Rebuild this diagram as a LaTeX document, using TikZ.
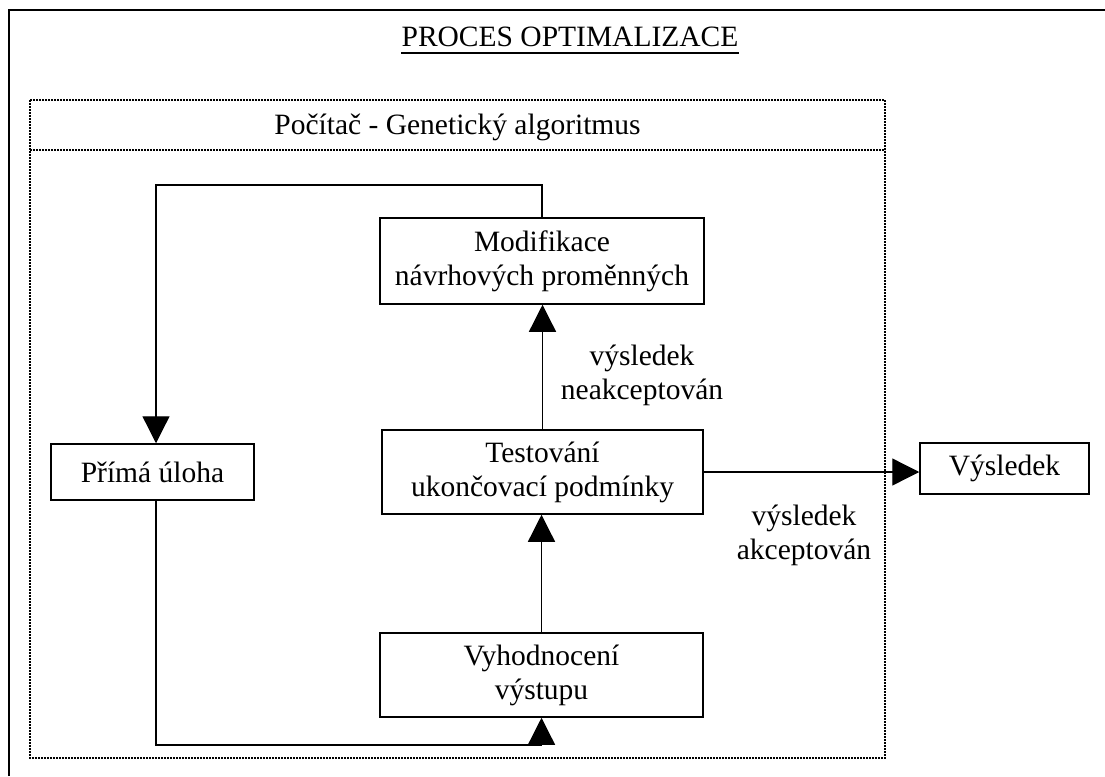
\documentclass[tikz,border=0pt]{standalone}
\usepackage{fontspec}
\setmainfont{Liberation Serif}
\usetikzlibrary{arrows.meta}
\begin{document}
\begin{tikzpicture}[x=1pt,y=-1pt,
  font=\fontsize{29.5}{34}\selectfont,
  box/.style={draw, line width=1.5pt, align=center, inner sep=0pt},
  conn/.style={line width=1.3pt},
  arr/.style={conn, -{Triangle[length=27pt,width=27pt]}},
  lbl/.style={align=center, inner sep=0pt},
  dotline/.style={line width=1.6pt, dash pattern=on 1.6pt off 1.4pt}
]
\useasboundingbox (0,0) rectangle (1105,776);
% outer frame
\draw[line width=2.2pt] (9,776) -- (9,10) -- (1105,10);
% title
\node[anchor=base, inner sep=0pt] (title) at (570,47) {PROCES OPTIMALIZACE};
\draw[line width=1.6pt] ([yshift=-6pt]title.base west) -- ([yshift=-6pt]title.base east);
% dotted computer box
\draw[dotline] (30,100) rectangle (885,758);
\draw[dotline] (30,150) -- (885,150);
\node[anchor=base, inner sep=0pt] (ga) at (457.5,134) {Počítač - Genetický algoritmus};
% boxes
\node[box, minimum width=324pt, minimum height=86pt] (mod) at (542,261) {Modifikace\\návrhových proměnných};
\node[box, minimum width=321pt, minimum height=84pt] (test) at (542.5,472) {Testování\\ukončovací podmínky};
\node[box, minimum width=323pt, minimum height=84pt] (vyh) at (541.5,675) {Vyhodnocení\\výstupu};
\node[box, minimum width=203pt, minimum height=56pt] (prima) at (152.5,472) {Přímá úloha};
\node[box, minimum width=169pt, minimum height=51pt] (vys) at (1004.5,468.5) {Výsledek};
% labels
\node[lbl] (lneg) at (642,375) {výsledek\\neakceptován};
\node[lbl] (lacc) at (804,535) {výsledek\\akceptován};
% connectors
\coordinate (tl) at (156,185);
\coordinate (bl) at (156,745);
\draw[arr] (test.north) -- (test.north |- mod.south);
\draw[arr] (vyh.north) -- (vyh.north |- test.south);
\draw[arr] (test.east) -- (test.east -| vys.west);
\draw[arr] (mod.north) |- (tl) -- (tl |- prima.north);
\draw[arr] (bl |- prima.south) -- (bl) -| (vyh.south);
\end{tikzpicture}
\end{document}
